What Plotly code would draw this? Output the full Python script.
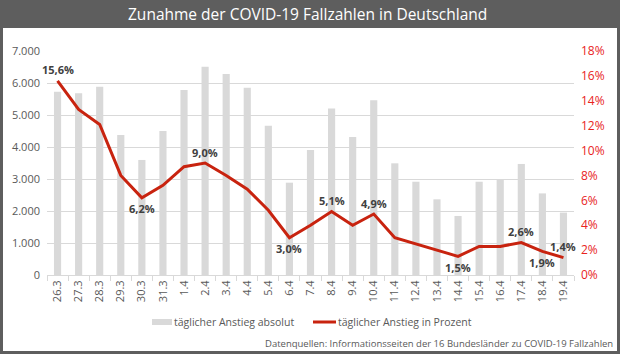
import plotly.graph_objects as go

dates = ["26.3", "27.3", "28.3", "29.3", "30.3", "31.3", "1.4", "2.4", "3.4", "4.4",
         "5.4", "6.4", "7.4", "8.4", "9.4", "10.4", "11.4", "12.4", "13.4", "14.4",
         "15.4", "16.4", "17.4", "18.4", "19.4"]
absolute = [5730, 5680, 5885, 4375, 3595, 4500, 5780, 6510, 6280, 5855,
            4665, 2885, 3905, 5200, 4310, 5460, 3490, 2915, 2365, 1845,
            2915, 2970, 3470, 2550, 1950]
percent = [15.6, 13.3, 12.1, 8.0, 6.2, 7.2, 8.7, 9.0, 8.0, 6.9,
           5.2, 3.0, 4.0, 5.1, 4.0, 4.9, 3.0, 2.5, 2.0, 1.5,
           2.3, 2.3, 2.6, 1.9, 1.4]
# which points carry a data label: +1 above the line, -1 below
label_side = {"26.3": 1, "30.3": -1, "2.4": 1, "6.4": -1, "8.4": 1, "10.4": 1,
              "14.4": -1, "17.4": 1, "18.4": -1, "19.4": 1}

title = "Zunahme der COVID-19 Fallzahlen in Deutschland"
source = "Datenquellen: Informationsseiten der 16 Bundesländer zu COVID-19 Fallzahlen"
name_abs = "täglicher Anstieg absolut"
name_pct = "täglicher Anstieg in Prozent"

FONT = "Open Sans"
W, H = 620, 354
L, R, T, B = 47, 46, 51, 79
pw, ph = W - L - R, H - T - B

def px_x(x):
    return (x - L) / pw

def px_y(y):
    return (H - B - y) / ph

fig = go.Figure()
fig.add_trace(go.Bar(x=dates, y=absolute, name=name_abs,
                     marker=dict(color="#d9d9d9", line=dict(width=0)), yaxis="y"))
fig.add_trace(go.Scatter(x=dates, y=percent, name=name_pct, mode="lines",
                         line=dict(color="#c8230f", width=3), yaxis="y2"))

annotations = []
for i, (d, p) in enumerate(zip(dates, percent)):
    if d in label_side:
        annotations.append(dict(
            text=f"{p:.1f}".replace(".", ",") + "%", x=i, y=p, xref="x", yref="y2",
            showarrow=False, xanchor="center", yanchor="middle",
            yshift=11 * label_side[d],
            font=dict(family=FONT, size=11, color="#404040", weight="bold")))

annotations += [
    dict(text=title, xref="paper", yref="paper", x=px_x(307), y=px_y(14),
         xanchor="center", yanchor="middle", showarrow=False,
         font=dict(family=FONT, size=15.5, color="white")),
    dict(text=source, xref="paper", yref="paper", x=px_x(615), y=px_y(343),
         xanchor="right", yanchor="middle", showarrow=False,
         font=dict(family=FONT, size=9.5, color="#595959")),
    dict(text=name_abs, xref="paper", yref="paper", x=px_x(172), y=px_y(322),
         xanchor="left", yanchor="middle", showarrow=False,
         font=dict(family=FONT, size=10.5, color="#595959")),
    dict(text=name_pct, xref="paper", yref="paper", x=px_x(336), y=px_y(322),
         xanchor="left", yanchor="middle", showarrow=False,
         font=dict(family=FONT, size=10.5, color="#595959")),
]

shapes = [
    dict(type="rect", xref="paper", yref="paper", layer="below",
         x0=px_x(3), x1=px_x(617), y0=px_y(351), y1=px_y(28),
         fillcolor="white", line=dict(width=0)),
    # legend swatches
    dict(type="rect", xref="paper", yref="paper",
         x0=px_x(152), x1=px_x(172), y0=px_y(325), y1=px_y(319),
         fillcolor="#d9d9d9", line=dict(width=0)),
    dict(type="line", xref="paper", yref="paper",
         x0=px_x(313), x1=px_x(336), y0=px_y(322), y1=px_y(322),
         line=dict(color="#c8230f", width=3)),
]

fig.update_layout(
    width=W, height=H,
    margin=dict(l=L, r=R, t=T, b=B),
    paper_bgcolor="#5e5e5e",
    plot_bgcolor="white",
    separators=",.",
    bargap=0.66,
    font=dict(family=FONT, color="#595959"),
    showlegend=False,
    xaxis=dict(type="category", range=[-0.5, len(dates) - 0.5], autorange=False,
               tickangle=-90, tickfont=dict(size=11, color="#595959"),
               showline=True, linecolor="#d9d9d9", ticks="outside", tickson="boundaries",
               ticklen=5, tickcolor="#d9d9d9", showgrid=False),
    yaxis=dict(range=[0, 7000], dtick=1000, tickformat=",d", showgrid=True,
               gridcolor="#d9d9d9", zeroline=False, tickfont=dict(size=11, color="#595959"),
               ticklabelstandoff=6),
    yaxis2=dict(range=[0, 18], dtick=2, ticksuffix="%", overlaying="y", side="right",
                showgrid=False, zeroline=False, tickfont=dict(size=12, color="#e8231e"),
                ticklabelstandoff=6),
    shapes=shapes,
    annotations=annotations,
)

fig.write_html("out.html")
